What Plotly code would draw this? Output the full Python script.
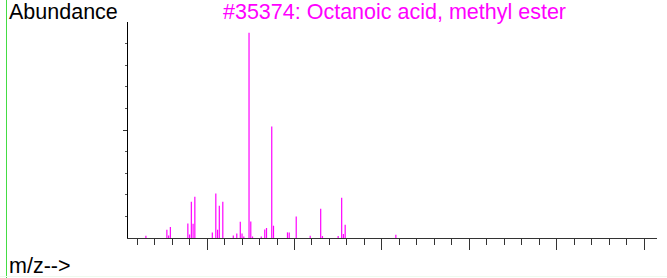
import plotly.graph_objects as go

# m/z values and abundances (axis full scale = 10000)
mz = [15, 27, 28, 29, 39, 40, 41, 42, 43, 53, 55, 56, 57, 59, 65, 67, 69, 70, 71,
      74, 75, 76, 81, 83, 84, 87, 88, 96, 97, 101, 109, 115, 116, 125, 127, 128, 129, 158]
abundance = [100, 384, 120, 509, 676, 167, 1680, 662, 1912, 260, 2065, 384, 1495, 1680,
             120, 213, 755, 213, 70, 9500, 768, 70, 70, 398, 463, 5167, 569, 260, 260,
             1000, 106, 1356, 90, 90, 1866, 185, 616, 153]

title_text = "#35374: Octanoic acid, methyl ester"
y_label = "Abundance"
x_label = "m/z-->"

xs, ys = [], []
for m, a in zip(mz, abundance):
    xs += [m, m, None]
    ys += [0, a, None]

fig = go.Figure()
fig.add_trace(go.Scatter(x=xs, y=ys, mode="lines",
                         line=dict(color="#FF00FF", width=1.2),
                         hoverinfo="skip", showlegend=False))

W, H = 667, 278
L, R, T, B = 128, 10, 22, 40
pw, ph = W - L - R, H - T - B

def px(xp):
    return (xp - L) / pw

def py(yp):
    return (H - B - yp) / ph

FS = 21.5

fig.update_layout(
    width=W, height=H,
    margin=dict(l=L, r=R, t=T, b=B),
    paper_bgcolor="white", plot_bgcolor="white",
    font=dict(family="Liberation Sans, Arial, sans-serif", size=FS, color="black"),
    xaxis=dict(range=[4.76, 307.4], showgrid=False, zeroline=False,
               showline=True, linecolor="#333333", linewidth=1,
               ticks="outside", tick0=0, dtick=50, ticklen=11, tickcolor="#333333",
               tickwidth=1, showticklabels=False,
               minor=dict(ticks="outside", tick0=0, dtick=10, ticklen=6,
                          tickcolor="#333333", tickwidth=1)),
    yaxis=dict(range=[0, 10000], showgrid=False, zeroline=False,
               showline=True, linecolor="black", linewidth=1,
               ticks="outside", tickmode="array", tickvals=[5000], ticklen=4,
               tickcolor="#333333", showticklabels=False,
               minor=dict(ticks="outside", tickmode="array",
                          tickvals=[1000, 2000, 3000, 4000, 6000, 7000, 8000, 9000],
                          ticklen=2, tickcolor="#555555")),
    annotations=[
        dict(text=y_label, xref="paper", yref="paper", x=px(7), y=py(-2),
             xanchor="left", yanchor="top", showarrow=False,
             font=dict(size=FS, color="black")),
        dict(text=title_text, xref="paper", yref="paper", x=px(394.5), y=py(-2),
             xanchor="center", yanchor="top", showarrow=False,
             font=dict(size=FS, color="#FF00FF")),
        dict(text=x_label, xref="paper", yref="paper", x=px(7), y=py(265.5),
             xanchor="left", yanchor="middle", showarrow=False,
             font=dict(size=FS, color="black")),
    ],
    shapes=[
        dict(type="line", xref="paper", yref="paper", x0=px(6.5), x1=px(6.5),
             y0=py(0), y1=py(278), line=dict(color="#44DD44", width=1)),
        dict(type="line", xref="paper", yref="paper", x0=px(0), x1=px(667),
             y0=py(276.5), y1=py(276.5), line=dict(color="#EEFAEE", width=1)),
    ],
)

fig.write_html("out.html",
               config={"displayModeBar": False, "staticPlot": True},
               post_script="document.body.style.margin='0';document.body.style.padding='0';document.body.style.overflow='hidden';")
